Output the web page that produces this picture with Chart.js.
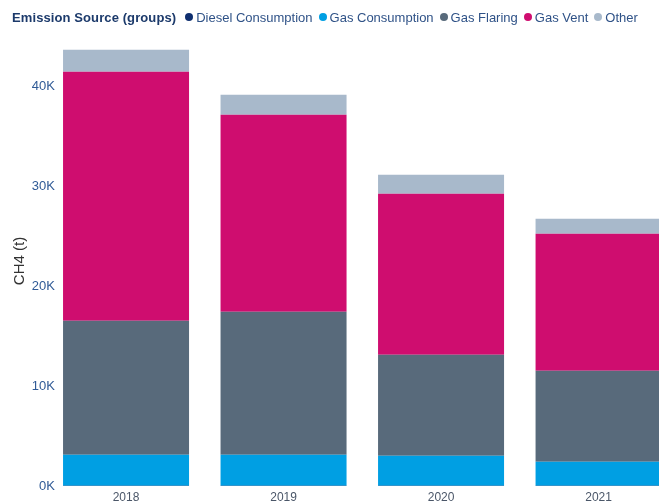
<!DOCTYPE html>
<html>
<head>
<meta charset="utf-8">
<script src="https://cdn.jsdelivr.net/npm/chart.js@4"></script>
<style>
  html, body { margin: 0; padding: 0; background: #fff; overflow: hidden; width: 659px; height: 503px; }
  #wrap { position: absolute; left: 0; top: 0; width: 700px; height: 503px; }
  #legend { position: absolute; left: 12px; top: 8px; height: 18px; display: flex; align-items: center;
            font-family: "Liberation Sans", Arial, sans-serif; font-size: 13px; white-space: nowrap; z-index: 2; }
  #legend .title { font-weight: bold; color: #1c3a6b; margin-right: 3px; letter-spacing: 0.1px; }
  #legend .item { display: flex; align-items: center; margin-left: 6px; color: #2f5287; }
  #legend .dot { width: 8px; height: 8px; border-radius: 50%; margin-right: 3px; }
</style>
</head>
<body>
<div id="legend"></div>
<div id="wrap"><canvas id="c" width="700" height="503"></canvas></div>
<script>
const legendTitle = "Emission Source (groups)";
const categories = ["2018", "2019", "2020", "2021"];
const seriesNames = ["Diesel Consumption", "Gas Consumption", "Gas Flaring", "Gas Vent", "Other"];
const dieselConsumption = [30, 30, 25, 20];
const gasConsumption = [3100, 3100, 3000, 2400];
const gasFlaring = [13400, 14300, 10100, 9100];
const gasVent = [24900, 19700, 16100, 13700];
const other = [2200, 2000, 1900, 1500];
const seriesColors = ["#0f2f6f", "#009fe3", "#586a7b", "#cf0d6f", "#a8b9cb"];
const yTickValues = [0, 10000, 20000, 30000, 40000];
const yTickLabels = ["0K", "10K", "20K", "30K", "40K"];
const yMax = 45000;
const yAxisTitle = "CH4 (t)";
// visible x window (the last bar is cut off at the right edge)
const xMin = 2017.568;
const xMax = 2021.498;

const seriesValues = [dieselConsumption, gasConsumption, gasFlaring, gasVent, other];
const catNums = categories.map(Number);

const leg = document.getElementById('legend');
const t = document.createElement('span'); t.className = 'title'; t.textContent = legendTitle; leg.appendChild(t);
seriesNames.forEach((n, i) => {
  const it = document.createElement('span'); it.className = 'item';
  const d = document.createElement('span'); d.className = 'dot'; d.style.background = seriesColors[i];
  const s = document.createElement('span'); s.textContent = n;
  it.appendChild(d); it.appendChild(s); leg.appendChild(it);
});

new Chart(document.getElementById('c'), {
  type: 'bar',
  data: {
    labels: categories,
    datasets: seriesNames.map((n, i) => ({
      label: n,
      data: seriesValues[i].map((v, j) => ({ x: catNums[j], y: v })),
      backgroundColor: seriesColors[i],
      borderWidth: 0, categoryPercentage: 0.8, barPercentage: 1
    }))
  },
  options: {
    responsive: false,
    animation: false,
    layout: { padding: { top: 36, right: 23, bottom: 0, left: 0 } },
    plugins: { legend: { display: false }, tooltip: { enabled: false } },
    scales: {
      x: {
        type: 'linear',
        offset: false,
        stacked: true,
        min: xMin, max: xMax,
        grid: { display: false, drawTicks: false, offset: false },
        border: { display: false },
        afterBuildTicks: s => { s.ticks = catNums.map(v => ({ value: v })); },
        ticks: {
          color: '#4a5668', font: { family: 'Liberation Sans, Arial, sans-serif', size: 12 }, padding: 4, maxRotation: 0,
          autoSkip: false,
          callback: function (v) { const k = catNums.indexOf(v); return k >= 0 ? categories[k] : ''; }
        },
        afterFit: s => { s.height = 17; s.paddingLeft = 0; s.paddingRight = 0; }
      },
      y: {
        stacked: true,
        min: 0, max: yMax,
        grid: { display: false, drawTicks: false },
        border: { display: false },
        afterBuildTicks: s => { s.ticks = yTickValues.map(v => ({ value: v })); },
        ticks: {
          autoSkip: false,
          color: '#2f5a96', font: { family: 'Liberation Sans, Arial, sans-serif', size: 13 }, padding: 3,
          callback: function (v) { const k = yTickValues.indexOf(v); return k >= 0 ? yTickLabels[k] : ''; }
        },
        title: { display: true, text: yAxisTitle, color: '#333333', font: { family: 'Liberation Sans, Arial, sans-serif', size: 15 }, padding: { top: 11, bottom: 0 } },
        afterFit: s => { s.width = 58; }
      }
    }
  }
});
</script>
</body>
</html>
